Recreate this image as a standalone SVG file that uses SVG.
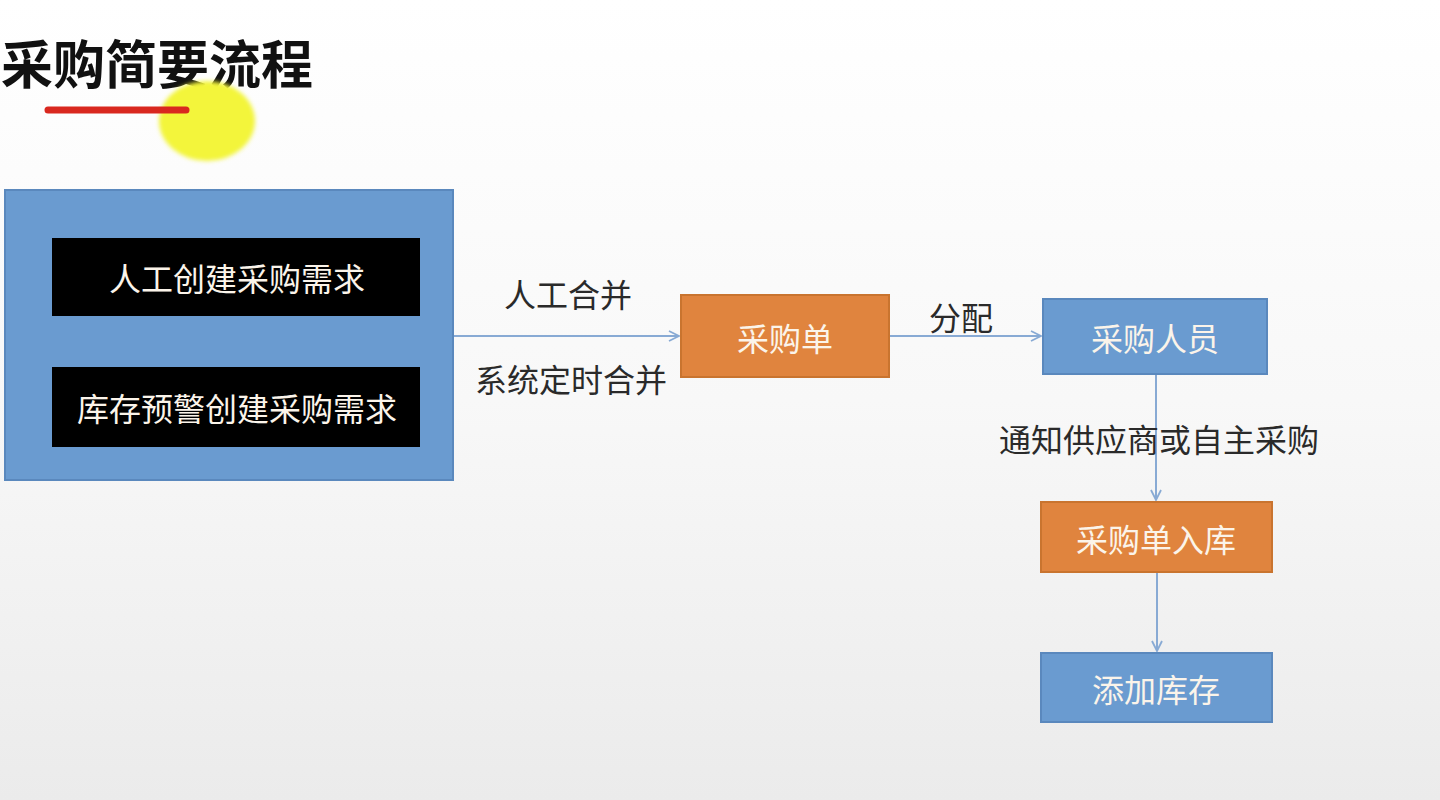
<svg xmlns="http://www.w3.org/2000/svg" width="1440" height="800" viewBox="0 0 1440 800">
  <defs>
    <linearGradient id="bg" x1="0" y1="0" x2="0" y2="1">
      <stop offset="0" stop-color="#ffffff"/>
      <stop offset="0.5" stop-color="#f8f8f8"/>
      <stop offset="1" stop-color="#ebebeb"/>
    </linearGradient>
    <filter id="soft" x="-20%" y="-20%" width="140%" height="140%">
      <feGaussianBlur stdDeviation="2"/>
    </filter>
    <marker id="arr" viewBox="0 0 12 12" refX="11" refY="6" markerWidth="12" markerHeight="12" markerUnits="userSpaceOnUse" orient="auto">
      <path d="M1,1 L11,6 L1,11" fill="none" stroke="#88aad4" stroke-width="1.8"/>
    </marker>
    <style>
      .t { font-family: "Noto Sans CJK SC", "Noto Sans", sans-serif; font-size: 32px; text-anchor: middle; dominant-baseline: central; }
      .lbl { fill: #2a2a2a; }
      .wt { fill: #fbf4ea; }
      .blue { fill: #6a9bd0; stroke: #5a88bd; stroke-width: 2; }
      .orange { fill: #e0843e; stroke: #c9742f; stroke-width: 2; }
      .black { fill: #000000; }
      .conn { stroke: #88aad4; stroke-width: 2; fill: none; marker-end: url(#arr); }
    </style>
  </defs>
  <rect width="1440" height="800" fill="url(#bg)"/>

  <g id="title">
    <text x="1" y="61" style="font-family: 'Noto Sans CJK SC', sans-serif; font-size: 52px; font-weight: bold; dominant-baseline: central;" fill="#111">采购简要流程</text>
    <ellipse cx="207" cy="121" rx="48" ry="40" fill="#f3f53a" filter="url(#soft)"/>
    <line x1="48" y1="110" x2="186" y2="110" stroke="#d9281f" stroke-width="7" stroke-linecap="round"/>
  </g>

  <g id="requests">
    <rect class="blue" x="5" y="190" width="448" height="290"/>
    <g id="manual-request">
      <rect class="black" x="52" y="238" width="368" height="78"/>
      <text class="t wt" x="237" y="277">人工创建采购需求</text>
    </g>
    <g id="stock-warning-request">
      <rect class="black" x="52" y="367" width="368" height="80"/>
      <text class="t wt" x="237" y="407">库存预警创建采购需求</text>
    </g>
  </g>

  <g id="purchase-order">
    <rect class="orange" x="681" y="295" width="208" height="82"/>
    <text class="t wt" x="785" y="337">采购单</text>
  </g>

  <g id="buyer">
    <rect class="blue" x="1043" y="299" width="224" height="75"/>
    <text class="t wt" x="1155" y="337">采购人员</text>
  </g>

  <g id="po-stock-in">
    <rect class="orange" x="1041" y="502" width="231" height="70"/>
    <text class="t wt" x="1156" y="538">采购单入库</text>
  </g>

  <g id="add-stock">
    <rect class="blue" x="1041" y="653" width="231" height="69"/>
    <text class="t wt" x="1156" y="688">添加库存</text>
  </g>

  <g id="connectors">
    <line class="conn" x1="454" y1="336" x2="679" y2="336"/>
    <line class="conn" x1="890" y1="336" x2="1041" y2="336"/>
    <line class="conn" x1="1156" y1="375" x2="1156" y2="500"/>
    <line class="conn" x1="1157" y1="573" x2="1157" y2="651"/>
  </g>

  <g id="labels">
    <text class="t lbl" x="568" y="293">人工合并</text>
    <text class="t lbl" x="571" y="378">系统定时合并</text>
    <text class="t lbl" x="961" y="316">分配</text>
    <text class="t lbl" x="1159" y="438">通知供应商或自主采购</text>
  </g>
</svg>
